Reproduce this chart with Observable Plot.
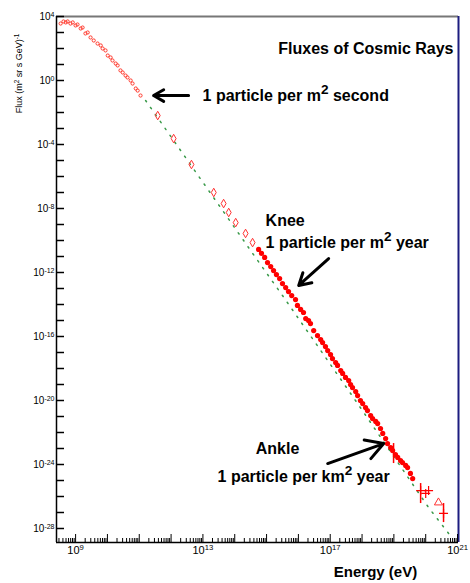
<!DOCTYPE html>
<html><head><meta charset="utf-8">
<script src="https://cdn.jsdelivr.net/npm/d3@7"></script>
<script src="https://cdn.jsdelivr.net/npm/@observablehq/plot@0.6"></script>
<style>html,body{margin:0;padding:0;background:#fff;}</style>
</head><body><div id="chart"></div>
<script>
// ---- data (log10 of energy in eV, log10 of flux in (m^2 sr s GeV)^-1) ----
const lowLogE = [8.53,8.62,8.69,8.75,8.84,8.91,9.00,9.06,9.16,9.22,9.31,9.38,9.47,9.57,9.69,9.79,9.85,9.94,10.01,10.10,10.16,10.26,10.32,10.41,10.48,10.57,10.63,10.73,10.79,10.89,10.95,11.04];
const lowLogF = [3.56,3.69,3.63,3.69,3.56,3.63,3.44,3.50,3.25,3.31,2.94,3.00,2.69,2.50,2.31,2.19,2.00,1.88,1.56,1.44,1.25,1.06,0.94,0.63,0.50,0.31,0.19,0.00,-0.19,-0.50,-0.63,-0.94];

const diaLogE = [11.58,12.08,12.64,13.34,13.65,13.81,14.03,14.34,14.56];
const diaLogF = [-2.19,-3.63,-5.25,-7.00,-7.69,-8.25,-8.88,-9.56,-10.13];

const denseLogE = [14.75,14.84,14.94,15.03,15.13,15.22,15.31,15.41,15.50,15.60,15.69,15.79,15.91,15.97,16.07,16.16,16.23,16.32,16.38,16.48,16.60,16.70,16.76,16.85,16.92,17.01,17.07,17.17,17.23,17.33,17.39,17.48,17.58,17.64,17.70,17.80,17.86,17.95,18.02,18.11,18.17,18.27,18.33,18.43,18.49,18.58,18.65,18.74,18.80,18.90,18.96,19.05,19.12,19.21,19.27,19.37,19.43,19.52,19.59];
const denseLogF = [-10.56,-10.81,-11.06,-11.38,-11.63,-11.88,-12.13,-12.38,-12.69,-12.94,-13.19,-13.44,-13.69,-14.06,-14.31,-14.50,-14.88,-15.00,-15.19,-15.63,-15.94,-16.19,-16.38,-16.63,-16.88,-17.13,-17.38,-17.63,-17.81,-18.13,-18.31,-18.56,-18.75,-19.00,-19.19,-19.44,-19.69,-20.00,-20.19,-20.44,-20.63,-20.94,-21.13,-21.31,-21.44,-21.75,-22.06,-22.38,-22.69,-22.94,-23.13,-23.38,-23.56,-23.75,-23.88,-24.06,-24.19,-24.56,-24.88];

const highLogE = [19.84,20.00,20.09,20.56];
const highLogF = [-25.63,-25.81,-25.63,-27.06];
const triLogE = [20.40];
const triLogF = [-26.38];

const errLogE  = [18.99,19.84,20.56];
const errLogLo = [-22.69,-25.19,-26.44];
const errLogHi = [-23.94,-26.44,-27.63];

const fitLogE = [11.20,12.83,14.50,15.50,16.92,17.86,20.09,20.72];
const fitLogF = [-1.25,-5.88,-10.63,-13.44,-17.50,-20.19,-26.69,-28.31];

const yTickExps = [4,0,-4,-8,-12,-16,-20,-24,-28];
const xTickExps = [9,13,17,21];

const noteTexts = ["1 particle per m^{2} second","Knee","1 particle per m^{2} year","Ankle","1 particle per km^{2} year"];
const noteLogE  = [12.99,14.97,14.97,14.66,13.46];
const noteLogF  = [-0.94,-8.75,-10.13,-23.00,-24.75];

const arrowFromE = [12.55,16.95,16.92];
const arrowFromF = [-0.94,-11.13,-23.94];
const arrowToE   = [11.45,16.01,18.68];
const arrowToF   = [-0.94,-12.81,-22.69];

const titleText = "Fluxes of Cosmic Rays";
const xLabel = "Energy (eV)";
const yLabel = "Flux (m^{2} sr s GeV)^{-1}";

// ---- build tables ----
const pts = (le, lf) => le.map((e, i) => ({E: 10 ** e, F: 10 ** lf[i]}));
const low = pts(lowLogE, lowLogF);
const dia = pts(diaLogE, diaLogF);
const dense = pts(denseLogE, denseLogF);
const high = pts(highLogE, highLogF);
const tri = pts(triLogE, triLogF);
const fit = pts(fitLogE, fitLogF);
const errs = errLogE.map((e, i) => ({E: 10 ** e, lo: 10 ** errLogLo[i], hi: 10 ** errLogHi[i]}));
const notes = noteTexts.map((t, i) => ({t, E: 10 ** noteLogE[i], F: 10 ** noteLogF[i]}));
const arrows = arrowFromE.map((e, i) => ({x1: 10 ** e, y1: 10 ** arrowFromF[i], x2: 10 ** arrowToE[i], y2: 10 ** arrowToF[i]}));

const xDomain = [10 ** 8.40, 10 ** 21.03];
const yDomain = [10 ** -28.875, 10 ** 4];

const yDecades = d3.range(-28, 5).map(k => 10 ** k);
const xDecades = d3.range(9, 22).map(k => 10 ** k);
const xMinor = [];
for (let d = 8; d <= 20; d++) for (let k = 2; k <= 9; k++) {
  const v = k * 10 ** d;
  if (v > xDomain[0] && v < xDomain[1]) xMinor.push(v);
}
const fmtExp = v => `10^{${Math.round(Math.log10(v))}}`;

const chart = Plot.plot({
  width: 470, height: 583,
  marginLeft: 56, marginRight: 12, marginTop: 16, marginBottom: 41,
  x: {type: "log", domain: xDomain},
  y: {type: "log", domain: yDomain},
  style: {fontFamily: "'Liberation Sans', Arial, sans-serif", background: "#fff", color: "#000"},
  marks: [
    Plot.line(fit, {x: "E", y: "F", stroke: "#3a9a4a", strokeWidth: 1.5, strokeDasharray: "1.5 7", strokeLinecap: "round"}),
    Plot.dot(low, {x: "E", y: "F", r: 1.6, stroke: "#ff3b2f", strokeWidth: 1}),
    Plot.dot(dia, {x: "E", y: "F", symbol: "diamond", r: 2.6, stroke: "#ff3030", strokeWidth: 1}),
    Plot.ruleX(errs, {x: "E", y1: "lo", y2: "hi", stroke: "#ff0000", strokeWidth: 1.5}),
    Plot.dot(dense, {x: "E", y: "F", r: 2.6, fill: "#ff0000"}),
    Plot.dot(high, {x: "E", y: "F", symbol: "plus", r: 3, stroke: "#ff0000", strokeWidth: 1.2}),
    Plot.dot(tri, {x: "E", y: "F", symbol: "triangle", r: 3, stroke: "#ff3030", strokeWidth: 1}),
    // frame
    Plot.ruleY([yDomain[1]], {stroke: "#777", strokeWidth: 2}),
    Plot.ruleX([xDomain[1]], {stroke: "#1c1c80", strokeWidth: 2}),
    Plot.ruleY([yDomain[0]], {stroke: "#000", strokeWidth: 1.5}),
    Plot.ruleX([xDomain[0]], {stroke: "#000", strokeWidth: 1.5}),
    // axes
    Plot.axisY({ticks: yDecades, tickSize: -8, tickFormat: () => "", strokeWidth: 1.5, label: null}),
    Plot.axisY({ticks: yTickExps.map(k => 10 ** k), tickSize: 0, tickPadding: 2, tickFormat: fmtExp, fontSize: 10, label: null}),
    Plot.axisX({ticks: xMinor, tickSize: -4, tickFormat: () => "", label: null}),
    Plot.axisX({ticks: xDecades, tickSize: -8, tickFormat: () => "", label: null}),
    Plot.axisX({ticks: xTickExps.map(k => 10 ** k), tickSize: 0, tickPadding: 4, tickFormat: fmtExp, fontSize: 11, label: null}),
    // annotations
    Plot.arrow(arrows, {x1: "x1", y1: "y1", x2: "x2", y2: "y2", stroke: "#000", strokeWidth: 3, headLength: 11}),
    Plot.text(notes, {x: "E", y: "F", text: "t", textAnchor: "start", fontSize: 16, fontWeight: "bold"}),
    Plot.text([titleText], {text: d => d, frameAnchor: "top-right", dx: -5, dy: 32, textAnchor: "end", lineAnchor: "middle", fontSize: 16, fontWeight: "bold"}),
    Plot.text([xLabel], {text: d => d, frameAnchor: "bottom", dx: 118, dy: 30, textAnchor: "middle", lineAnchor: "middle", fontSize: 15, fontWeight: "bold"}),
    Plot.text([yLabel], {text: d => d, frameAnchor: "top-left", dx: -37, dy: 57, textAnchor: "middle", lineAnchor: "middle", rotate: -90, fontSize: 9})
  ]
});

// superscripts: turn "^{...}" into raised tspans
const NS = "http://www.w3.org/2000/svg";
chart.querySelectorAll("text").forEach(t => {
  const nodes = t.querySelectorAll("tspan").length ? [...t.querySelectorAll("tspan")] : [t];
  nodes.forEach(node => {
    const s = node.textContent;
    if (!s.includes("^{")) return;
    const holder = node.closest("[font-size]");
    const fs = holder ? parseFloat(holder.getAttribute("font-size")) : 10;
    const scale = fs >= 14 ? "85%" : "70%";
    node.textContent = "";
    s.split(/(\^\{[^}]*\})/).forEach(p => {
      if (!p) return;
      const ts = document.createElementNS(NS, "tspan");
      if (p.startsWith("^{")) {
        ts.textContent = p.slice(2, -1);
        ts.setAttribute("baseline-shift", "super");
        ts.setAttribute("font-size", scale);
      } else ts.textContent = p;
      node.appendChild(ts);
    });
  });
});

document.getElementById("chart").appendChild(chart);
</script>
</body></html>
